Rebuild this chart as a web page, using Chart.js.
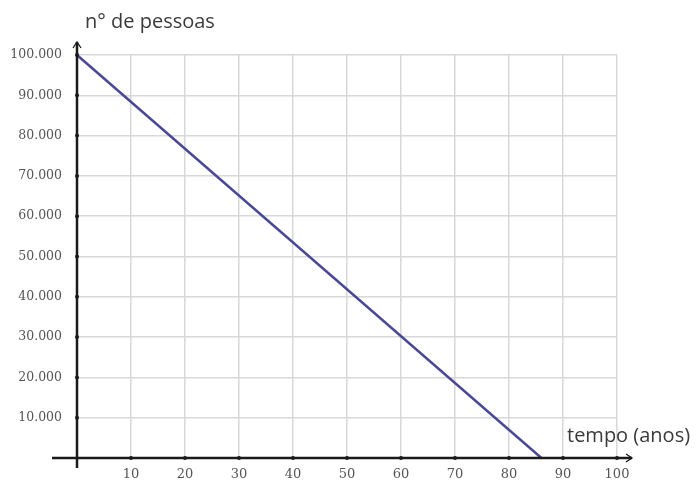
<!DOCTYPE html>
<html><head><meta charset="utf-8">
<script src="https://cdn.jsdelivr.net/npm/chart.js@4/dist/chart.umd.min.js"></script>
<style>html,body{margin:0;padding:0;background:#fff}#wrap{width:696px;height:482px;position:relative}</style>
</head><body><div id="wrap"><canvas id="c" width="696" height="482"></canvas></div>
<script>
const years = [0, 86];
const people = [100000, 0];
const xTicks = [0,10,20,30,40,50,60,70,80,90,100];
const yTicks = [0,10000,20000,30000,40000,50000,60000,70000,80000,90000,100000];
const yTitle = 'n° de pessoas';
const xTitle = 'tempo (anos)';

function fmt(v){ return v.toString().replace(/\B(?=(\d{3})+(?!\d))/g,'.'); }

const axesPlugin = {
  id:'axesArrows',
  afterDraw(chart){
    const ctx = chart.ctx, xs = chart.scales.x, ys = chart.scales.y;
    const x0 = xs.getPixelForValue(0), y0 = ys.getPixelForValue(0);
    const xEnd = xs.getPixelForValue(100)+15, yTop = ys.getPixelForValue(100000)-13;
    ctx.save();
    ctx.strokeStyle='#1a1a1a'; ctx.lineWidth=2.5;
    ctx.beginPath(); ctx.moveTo(x0-25,y0); ctx.lineTo(xEnd,y0); ctx.stroke();
    ctx.beginPath(); ctx.moveTo(x0,y0+10); ctx.lineTo(x0,yTop); ctx.stroke();
    ctx.lineWidth=1.3;
    ctx.beginPath(); ctx.moveTo(xEnd-6,y0-4); ctx.lineTo(xEnd,y0); ctx.lineTo(xEnd-6,y0+4); ctx.stroke();
    ctx.beginPath(); ctx.moveTo(x0-4,yTop+6); ctx.lineTo(x0,yTop); ctx.lineTo(x0+4,yTop+6); ctx.stroke();
    ctx.fillStyle='#1a1a1a';
    xTicks.forEach(t=>{ if(t>0){ ctx.beginPath(); ctx.arc(xs.getPixelForValue(t),y0,2,0,Math.PI*2); ctx.fill(); }});
    yTicks.forEach(t=>{ if(t>0){ ctx.beginPath(); ctx.arc(x0,ys.getPixelForValue(t),2,0,Math.PI*2); ctx.fill(); }});
    ctx.fillStyle='#3a3a3a';
    ctx.font='20px "Open Sans"';
    ctx.textBaseline='middle'; ctx.textAlign='left';
    ctx.fillText(yTitle, 85, 22);
    ctx.font='20px "Open Sans"';
    ctx.fillText(xTitle, 567, 436);
    ctx.restore();
  }
};

new Chart(document.getElementById('c'), {
  type:'scatter',
  data:{ datasets:[{ data: years.map((x,i)=>({x:x,y:people[i]})), showLine:true,
    borderColor:'rgb(72,72,150)', borderWidth:2.5, pointRadius:0, fill:false }]},
  options:{
    responsive:false, animation:false,
    layout:{ padding:{ left:0, right:79, top:55, bottom:0 } },
    plugins:{ legend:{display:false}, tooltip:{enabled:false} },
    scales:{
      x:{ type:'linear', min:0, max:100,
        afterBuildTicks(s){ s.ticks = xTicks.map(v=>({value:v})); },
        afterFit(s){ s.height = 24; },
        grid:{ color:'#d8d8d8', lineWidth:1.5, drawTicks:false },
        border:{ display:false },
        ticks:{ padding:9, color:'#555', font:{ family:'DejaVu Serif', size:13 },
          callback:v=> v===0 ? '' : v, maxRotation:0 } },
      y:{ type:'linear', min:0, max:100000,
        afterBuildTicks(s){ s.ticks = yTicks.map(v=>({value:v})); },
        afterFit(s){ s.width = 77; },
        grid:{ color:'#d8d8d8', lineWidth:1.5, drawTicks:false },
        border:{ display:false },
        ticks:{ padding:15, color:'#555', font:{ family:'DejaVu Serif', size:12.5 },
          callback:v=> v===0 ? '' : fmt(v) } }
    }
  },
  plugins:[axesPlugin]
});
</script></body></html>
